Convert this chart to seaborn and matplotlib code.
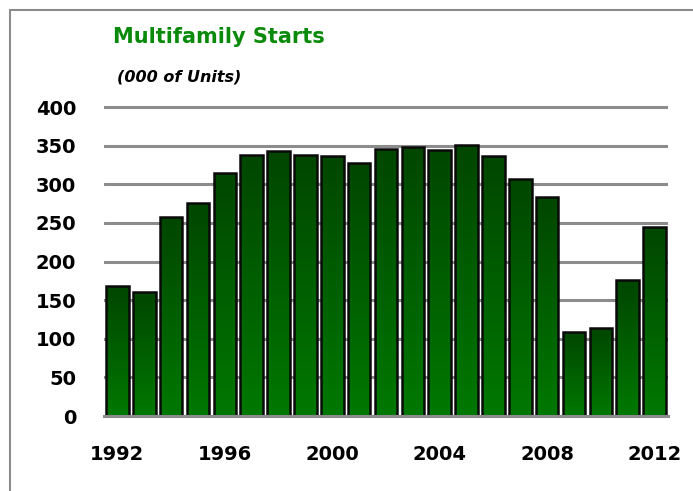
import numpy as np
import pandas as pd
import matplotlib
matplotlib.use("Agg")
import matplotlib.pyplot as plt
from matplotlib.colors import LinearSegmentedColormap
from matplotlib.lines import Line2D
import seaborn as sns

# Multifamily housing starts, thousands of units
years = [str(y) for y in range(1992, 2013)]
starts = [168, 161, 257, 276, 314, 338, 343, 338, 336, 328, 346,
          348, 344, 351, 336, 307, 283, 109, 114, 176, 245]
shown_years = ["1992", "1996", "2000", "2004", "2008", "2012"]
y_ticks = [0, 50, 100, 150, 200, 250, 300, 350, 400]

df = pd.DataFrame({"year": years, "starts": starts})

sns.set_style("white")
plt.rcParams['font.family'] = ['DejaVu Sans']

W, H = 693, 491
fig = plt.figure(figsize=(W / 100, H / 100), dpi=100)
ax = fig.add_axes([104 / W, 1 - 416 / H, (668 - 104) / W, (416 - 104.7) / H])

grid_col = "#8c8c8c"
sns.barplot(data=df, x="year", y="starts", ax=ax, color="#006400",
            width=0.84, edgecolor="#0a0a0a", linewidth=1.8, zorder=3)

# vertical gradient fill, clipped to each bar
cmap = LinearSegmentedColormap.from_list("g", ["#007800", "#004600"])
grad = np.linspace(0, 1, 256).reshape(-1, 1)
for p in ax.patches:
    x0, y0 = p.get_x(), p.get_y()
    w, h = p.get_width(), p.get_height()
    im = ax.imshow(grad, cmap=cmap, origin="lower", aspect="auto",
                   extent=(x0, x0 + w, y0, y0 + h), zorder=3.5)
    im.set_clip_path(p)
    p.set_facecolor("none")
    p.set_zorder(4)

ax.set_xlim(-0.5, len(years) - 0.5)
ax.set_ylim(0, 403)

ax.set_yticks(y_ticks)
ax.set_yticklabels([str(v) for v in y_ticks])
for v in y_ticks[1:]:
    ax.axhline(v, color=grid_col, lw=2.2, zorder=1)

ax.set_xticks([years.index(y) for y in shown_years])
ax.set_xticklabels(shown_years)
ax.set_xticks([years.index(y) - 0.5 for y in shown_years[:-1]] + [len(years) - 1.5], minor=True)
ax.tick_params(axis="x", which="major", length=0, pad=21, labelsize=14, labelcolor="black")
ax.tick_params(axis="x", which="minor", length=4.5, width=2.2, color=grid_col)
ax.tick_params(axis="y", length=0, pad=20, labelsize=14, labelcolor="black")
for lab in ax.get_xticklabels() + ax.get_yticklabels():
    lab.set_fontweight("bold")

ax.set_xlabel("")
ax.set_ylabel("")
for s in ["left", "right", "top"]:
    ax.spines[s].set_visible(False)
ax.spines["bottom"].set_color(grid_col)
ax.spines["bottom"].set_linewidth(2.2)
ax.spines["bottom"].set_zorder(5)

fig.text(113 / W, 1 - 37 / H, "Multifamily Starts", color="#0a8a0a",
         fontsize=15, fontweight="bold", va="center", ha="left")
fig.text(117 / W, 1 - 77 / H, "(000 of Units)", color="black",
         fontsize=11.5, fontweight="bold", fontstyle="italic", va="center", ha="left")

# outer frame (left and top edges only, the rest runs off the picture)
fig.add_artist(Line2D([9.5 / W, 9.5 / W], [0, 1 - 10 / H], color=grid_col, lw=1.5))
fig.add_artist(Line2D([9.5 / W, 1.01], [1 - 10 / H, 1 - 10 / H], color=grid_col, lw=1.5))

fig.savefig("out.png", dpi=100)
